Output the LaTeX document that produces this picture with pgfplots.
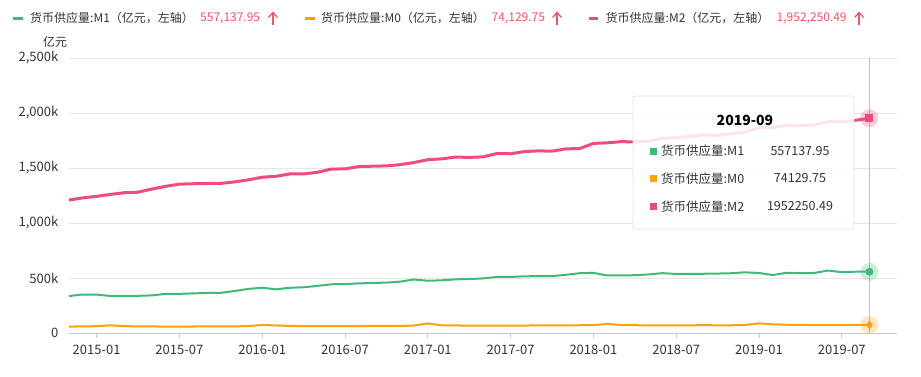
\documentclass[border=0pt]{standalone}
\usepackage{pgfplots}
\usepackage{pgfplotstable}
\pgfplotsset{compat=1.18}
\usepackage{fontspec}
\setmainfont{Noto Sans CJK SC}
\definecolor{cM1}{HTML}{3DBA78}
\definecolor{cM0}{HTML}{FFA100}
\definecolor{cM2}{HTML}{EC4D7B}
\definecolor{cval}{HTML}{F25562}
\definecolor{ctxt}{HTML}{333333}
\definecolor{cgrid}{HTML}{E6E6E6}
\definecolor{caxis}{HTML}{C6CAD0}
\definecolor{ctick}{HTML}{BCCAE0}
\pgfplotstableread{
idx m1 m0 m2
0 336000 57800 1209000
1 350000 60260 1228375
2 349000 62000 1242710
3 337000 70500 1259900
4 337000 61900 1275300
5 338000 61000 1280000
6 342000 59600 1308600
7 356000 58600 1333400
8 356000 58600 1353200
9 360000 59100 1356900
10 364000 61500 1359800
11 365000 60000 1360200
12 382000 60300 1373900
13 400953 63217 1392278
14 412000 72600 1416300
15 397000 69000 1424600
16 411000 64300 1446200
17 416000 62800 1446200
18 428000 61700 1461000
19 443000 62000 1490500
20 445000 62000 1491600
21 451000 62600 1513500
22 455000 65100 1516400
23 458000 63700 1519500
24 467000 64100 1530400
25 486557 68304 1550067
26 475000 86700 1575900
27 479000 70000 1582900
28 488000 68600 1599600
29 491000 67500 1596300
30 496000 66400 1601400
31 510000 66500 1631300
32 510000 66500 1629500
33 515000 67400 1649500
34 518000 69700 1655700
35 517000 68400 1653400
36 529000 68300 1674000
37 543790 70646 1676768
38 547000 71600 1723600
39 523000 82600 1729000
40 523500 72700 1739300
41 525400 70800 1737700
42 532700 69600 1743000
43 543900 69600 1770200
44 537000 69600 1776200
45 538700 70100 1788700
46 538600 71300 1801700
47 540500 70000 1795600
48 543500 70200 1813200
49 551685 73208 1826744
50 545600 87500 1865900
51 527200 79100 1867400
52 547600 74900 1889400
53 544000 73300 1884700
54 546000 71700 1891500
55 567700 72600 1921500
56 553000 72100 1919400
57 557100 73000 1934400
58 557137.95 74129.75 1952250.49
}\moneydata
\begin{document}
\begin{tikzpicture}[x=1pt,y=1pt]
\path[use as bounding box] (0,0) rectangle (921,-376);
\begin{axis}[
  at={(69pt,-333pt)}, anchor=south west,
  width=828pt, height=275pt, scale only axis,
  xmin=0, xmax=60, ymin=0, ymax=2500000,
  axis x line=bottom, axis y line=left,
  axis line style={-},
  x axis line style={caxis, line width=1pt},
  y axis line style={draw=none},
  ytick={0,500000,1000000,1500000,2000000,2500000},
  yticklabels={0,500k,{1,000k},{1,500k},{2,000k},{2,500k}},
  scaled y ticks=false,
  ytick style={draw=none},
  ymajorgrids, major grid style={cgrid, line width=1pt},
  xtick={2,8,14,20,26,32,38,44,50,56},
  xticklabels={2015-01,2015-07,2016-01,2016-07,2017-01,2017-07,2018-01,2018-07,2019-01,2019-07},
  xtick align=outside, major tick length=5pt,
  xtick style={ctick, line width=1pt},
  yticklabel style={font=\fontsize{13}{15}\selectfont, text=ctxt, inner sep=0pt, xshift=-8pt},
  xticklabel style={font=\fontsize{13}{15}\selectfont, text=ctxt, yshift=-4pt},
  clip=false,
]
\draw[black!25, line width=1pt] (axis cs:58,0) -- (axis cs:58,2500000);
\addplot[cM0, line width=2pt, line join=round] table[x=idx, y=m0] {\moneydata};
\addplot[cM1, line width=2pt, line join=round] table[x=idx, y=m1] {\moneydata};
\addplot[cM2, line width=3pt, line join=round] table[x=idx, y=m2] {\moneydata};
\addplot[only marks, color=cM2, mark=*, mark size=9pt, mark options={solid, draw opacity=0, fill opacity=0.28}] coordinates {(58,1952250.49)};
\addplot[only marks, color=cM2, mark=square*, mark size=4pt, mark options={solid, draw opacity=0}] coordinates {(58,1952250.49)};
\addplot[only marks, color=cM1, mark=*, mark size=9pt, mark options={solid, draw opacity=0, fill opacity=0.25}] coordinates {(58,557137.95)};
\addplot[only marks, color=cM1, mark=*, mark size=4pt, mark options={solid, draw opacity=0}] coordinates {(58,557137.95)};
\addplot[only marks, color=cM0, mark=*, mark size=9pt, mark options={solid, draw opacity=0, fill opacity=0.25}] coordinates {(58,74129.75)};
\addplot[only marks, color=cM0, mark=diamond*, mark size=4.5pt, mark options={solid, draw opacity=0, fill=cM0}] coordinates {(58,74129.75)};
\end{axis}
% y unit label
\node[font=\fontsize{12}{14}\selectfont, text=ctxt] at (55,-42) {亿元};
% legend
\begin{scope}[font=\fontsize{12}{14}\selectfont]
\draw[cM1, line width=3pt] (13,-18) -- (23,-18);
\node[anchor=west, inner sep=0pt, text=ctxt] at (30,-18) {货币供应量:M1（亿元，左轴）};
\node[anchor=west, inner sep=0pt, text=cval] at (200,-18) {557,137.95};
\draw[cval, line width=1.3pt] (273,-24.5) -- (273,-12.5);
\draw[cval, line width=1.3pt] (268.5,-17.5) -- (273,-12.5) -- (277.5,-17.5);
\draw[cM0, line width=3pt] (305,-18) -- (315,-18);
\node[anchor=west, inner sep=0pt, text=ctxt] at (321,-18) {货币供应量:M0（亿元，左轴）};
\node[anchor=west, inner sep=0pt, text=cval] at (491.5,-18) {74,129.75};
\draw[cval, line width=1.3pt] (557,-24.5) -- (557,-12.5);
\draw[cval, line width=1.3pt] (552.5,-17.5) -- (557,-12.5) -- (561.5,-17.5);
\draw[cM2, line width=3pt] (589,-18) -- (598,-18);
\node[anchor=west, inner sep=0pt, text=ctxt] at (605.5,-18) {货币供应量:M2（亿元，左轴）};
\node[anchor=west, inner sep=0pt, text=cval] at (776.5,-18) {1,952,250.49};
\draw[cval, line width=1.3pt] (859,-24.5) -- (859,-12.5);
\draw[cval, line width=1.3pt] (854.5,-17.5) -- (859,-12.5) -- (863.5,-17.5);
\end{scope}
% tooltip
\fill[white, fill opacity=0.85, rounded corners=2pt] (633,-96) rectangle (854,-229);
\draw[black!10, line width=0.8pt, rounded corners=2pt] (633,-96) rectangle (854,-229);
\node[font=\fontsize{14}{16}\selectfont\bfseries] at (745,-120) {2019-09};
\begin{scope}[font=\fontsize{12.5}{15}\selectfont]
\fill[cM1] (649.5,-147.5) rectangle (656.5,-154.5);
\node[anchor=west, inner sep=0pt, text=ctxt] at (661,-151) {货币供应量:M1};
\node[inner sep=0pt, text=ctxt] at (800,-151) {557137.95};
\fill[cM0] (649.5,-175) rectangle (656.5,-182);
\node[anchor=west, inner sep=0pt, text=ctxt] at (661,-178.5) {货币供应量:M0};
\node[inner sep=0pt, text=ctxt] at (800,-178.5) {74129.75};
\fill[cM2] (649.5,-203) rectangle (656.5,-210);
\node[anchor=west, inner sep=0pt, text=ctxt] at (661,-206.5) {货币供应量:M2};
\node[inner sep=0pt, text=ctxt] at (800,-206.5) {1952250.49};
\end{scope}
\end{tikzpicture}
\end{document}
